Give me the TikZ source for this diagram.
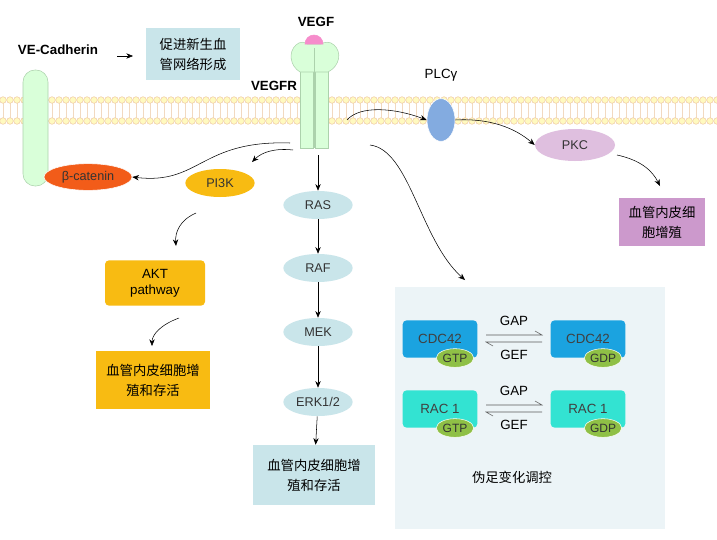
\documentclass[tikz,border=0pt]{standalone}
\usepackage{fontspec}
\setmainfont{Liberation Sans}
\newfontfamily\cjk{Noto Sans CJK SC}
\usetikzlibrary{arrows.meta,shapes.geometric}
\definecolor{gold}{HTML}{F8BB12}
\definecolor{lcyan}{HTML}{C9E5EA}
\definecolor{bblue}{HTML}{1BA3E0}
\definecolor{teal2}{HTML}{33E3D2}
\definecolor{gnuccol}{HTML}{8FC046}
\definecolor{bcatc}{HTML}{F25C19}
\begin{document}
\begin{tikzpicture}[x=0.75pt,y=-0.75pt,
 arr/.style={-{Stealth[length=5pt,width=4pt]},thin,black},
 oval/.style={ellipse,minimum width=52pt,minimum height=21pt,inner sep=0pt,font=\fontsize{9.5}{10}\selectfont,text=black!80},
 box/.style={rectangle,align=center,inner sep=0pt,font=\cjk\fontsize{10}{15}\selectfont},
 gbox/.style={rectangle,rounded corners=3pt,minimum width=56pt,minimum height=28pt,inner sep=0pt,font=\fontsize{10}{10}\selectfont,text=black!75},
 gnuc/.style={ellipse,fill=gnuccol,draw=white,minimum width=28pt,minimum height=14pt,inner sep=0pt,font=\fontsize{9}{9}\selectfont,text=black!80}]
\useasboundingbox (0,0) rectangle (717,539);
\fill[white] (0,0) rectangle (717,539);
% membrane
\foreach \i in {0,...,102}{
 \draw[orange!30!brown!30,line width=0.4pt] (\i*7+3,103)--(\i*7+3,118);
 \draw[orange!40!brown!40,fill=orange!15!yellow!25,line width=0.4pt] (\i*7+3,100) circle (3.3);
 \draw[orange!40!brown!40,fill=orange!15!yellow!25,line width=0.4pt] (\i*7+3,121) circle (3.3);}
% VE-Cadherin
\node[font=\bfseries\fontsize{10}{10}\selectfont] (vec) at (58,50) {VE-Cadherin};
\node[box,fill=lcyan,minimum width=70pt,minimum height=39pt] (b1) at (193,54) {促进新生血\\管网络形成};
\coordinate (va) at (117,56);
\draw[arr] (va) -- ++(16,0);
\draw[fill=green!15,draw=green!30!gray!50,rounded corners=9pt] (23,70) rectangle (48,186);
\node[ellipse,fill=bcatc,draw=white,minimum width=66pt,minimum height=20pt,inner sep=0pt,font=\fontsize{9.5}{10}\selectfont,text=black!80] (bcat) at (88,177) {β-catenin};
% VEGFR
\draw[fill=green!15,draw=green!30!gray!50] (300,60) rectangle (313,148);
\draw[fill=green!15,draw=green!30!gray!50] (315,60) rectangle (328,148);
\draw[fill=green!15,draw=green!30!gray!50] (300,72) .. controls (290,66) and (288,52) .. (296,45) .. controls (300,41) and (305,42) .. (307,44) -- (321,44) .. controls (324,42) and (330,41) .. (334,45) .. controls (342,52) and (340,66) .. (328,72) -- cycle;
\draw[green!30!gray!50] (314,48) -- (314,148);
\draw[fill=magenta!45,draw=magenta!45] (305,44) arc (180:360:9 and 9) -- cycle;
\node[font=\bfseries\fontsize{10}{10}\selectfont] (vegf) at (316,22) {VEGF};
\node[font=\bfseries\fontsize{10}{10}\selectfont] (vegfr) at (274,86) {VEGFR};
\coordinate (r1) at (290,143);
\coordinate (r2) at (293,150);
\coordinate (r3) at (318,155);
\coordinate (r4) at (347,120);
\coordinate (r5) at (370,145);
% PLC
\node[font=\fontsize{10}{10}\selectfont] (plct) at (441,75) {PLCγ};
\node[ellipse,fill=cyan!55!blue!50,draw=white,minimum width=21pt,minimum height=32pt,inner sep=0pt] (plc) at (441,120) {};
\node[oval,fill=violet!25,minimum width=60pt,minimum height=24pt] (pkc) at (575,145) {PKC};
\node[box,fill=violet!40,minimum width=64pt,minimum height=36pt] (b2) at (662,222) {血管内皮细\\胞增殖};
% PI3K
\node[oval,fill=gold] (pi3k) at (220,183) {PI3K};
\node[rectangle,rounded corners=3pt,fill=gold,minimum width=75pt,minimum height=34pt,align=center,font=\fontsize{10}{12}\selectfont] (akt) at (155,283) {AKT\\pathway};
\node[box,fill=gold,minimum width=85pt,minimum height=43pt] (b3) at (153,380) {血管内皮细胞增\\殖和存活};
% MAPK
\node[oval,fill=lcyan] (ras) at (318,205) {RAS};
\node[oval,fill=lcyan] (raf) at (318,268) {RAF};
\node[oval,fill=lcyan] (mek) at (318,332) {MEK};
\node[oval,fill=lcyan] (erk) at (318,402) {ERK1/2};
\node[box,fill=lcyan,minimum width=91pt,minimum height=45pt] (b4) at (314,475) {血管内皮细胞增\\殖和存活};
% big box
\node[rectangle,fill=cyan!15!teal!8,minimum width=202pt,minimum height=182pt] (big) at (530,408) {};
\node[gbox,fill=bblue] (c1) at (440,339) {CDC42};
\node[gbox,fill=bblue] (c2) at (588,339) {CDC42};
\node[gbox,fill=teal2] (q1) at (440,409) {RAC 1};
\node[gbox,fill=teal2] (q2) at (588,409) {RAC 1};
\node[gnuc] (t1) at (455,358) {GTP};
\node[gnuc] (t2) at (603,358) {GDP};
\node[gnuc] (t3) at (455,428) {GTP};
\node[gnuc] (t4) at (603,428) {GDP};
\node[box] (b5) at (512,477) {伪足变化调控};
\foreach \y in {339,409}{
 \draw[gray!70!black,thin] (486,\y-4) -- (542,\y-4) -- ++(-7,-4);
 \draw[gray!70!black,thin] (542,\y+3) -- (486,\y+3) -- ++(7,4);}
\node[font=\fontsize{10}{10}\selectfont] (g1) at (514,321) {GAP};
\node[font=\fontsize{10}{10}\selectfont] (g2) at (514,355) {GEF};
\node[font=\fontsize{10}{10}\selectfont] (g3) at (514,391) {GAP};
\node[font=\fontsize{10}{10}\selectfont] (g4) at (514,425) {GEF};
% arrows
\draw[arr] (r1) .. controls (200,140) and (200,185) .. (bcat.east);
\draw[arr] (r2) .. controls (275,148) and (262,152) .. (252,162);
\draw[arr] (r3) -- (ras);
\draw[arr] (ras) -- (raf);
\draw[arr] (raf) -- (mek);
\draw[arr] (mek) -- (erk);
\draw[arr] (erk) -- (b4);
\draw[arr] (196,213) .. controls (180,220) and (175,232) .. (176,246);
\draw[arr] (179,318) .. controls (160,325) and (152,335) .. (152,346);
\draw[arr] (r4) .. controls (360,105) and (395,108) .. (plc.west);
\draw[arr] (plc.east) .. controls (490,118) and (515,128) .. (pkc.west);
\draw[arr] (617,155) .. controls (640,160) and (652,170) .. (660,186);
\draw[arr] (r5) .. controls (410,150) and (420,240) .. (465,280);
\end{tikzpicture}
\end{document}
